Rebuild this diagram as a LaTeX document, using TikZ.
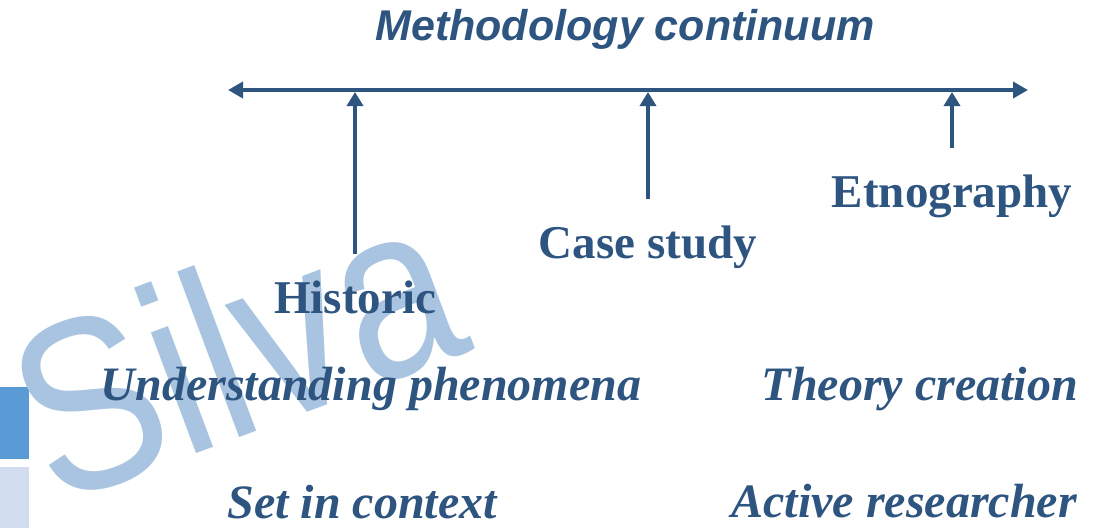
\documentclass[tikz,border=0pt]{standalone}
\usepackage{fontspec}
\setmainfont{Liberation Serif}
\newfontfamily\arialfont{Liberation Sans}
\usetikzlibrary{arrows.meta,calc}
\definecolor{textblue}{RGB}{46,84,128}
\definecolor{markblue}{RGB}{169,196,224}
\definecolor{barblue}{RGB}{91,155,213}
\definecolor{barlight}{RGB}{210,222,239}

\begin{document}
\begin{tikzpicture}[x=1pt,y=-1pt,
        method/.style={text=textblue,inner sep=0pt,anchor=base,
            font=\fontsize{47}{50}\selectfont\bfseries},
        aim/.style={method,font=\fontsize{48}{50}\selectfont\bfseries\itshape},
        tick/.style={draw=textblue,line width=4.3pt,-{Triangle[length=14pt,width=16pt]},
            shorten >=2pt}]

    \useasboundingbox (0,0) rectangle (1102,528);

    % side bars
    \fill[barblue] (0,387) rectangle (29,459);
    \fill[barlight] (0,467) rectangle (29,528);

    % watermark
    \node[text=markblue,inner sep=0pt,anchor=base west,rotate=20.5,xscale=0.85,
        font=\arialfont\fontsize{244}{244}\selectfont] (mark) at (54,507) {Silva};

    % continuum
    \node[text=textblue,inner sep=0pt,anchor=base,
        font=\arialfont\fontsize{43}{44}\selectfont\bfseries\itshape] (title) at (625,40) {Methodology continuum};
    \coordinate (lft) at (228,90);
    \coordinate (rgt) at (1028,90);
    \draw[draw=textblue,line width=4.5pt,{Triangle[length=15pt,width=16pt]}-{Triangle[length=15pt,width=16pt]}] (lft) -- (rgt);

    \node[method] (hist) at (355,313) {Historic};
    \node[method] (case) at (648,258) {Case study};
    \node[method] (etno) at (952,207) {Etnography};

    \draw[tick] ([yshift=26pt]hist.north) -- (hist.north |- lft);
    \draw[tick] ([yshift=26pt]case.north) -- (case.north |- lft);
    \draw[tick] ([yshift=26pt]etno.north) -- (etno.north |- lft);

    \node[aim] (under) at (371,400) {Understanding phenomena};
    \node[aim] (context) at (362,518) {Set in context};
    \node[aim,anchor=base east] (theory) at (1078,400) {Theory creation};
    \node[aim,anchor=base east] (active) at (1077,517) {Active researcher};
\end{tikzpicture}
\end{document}
